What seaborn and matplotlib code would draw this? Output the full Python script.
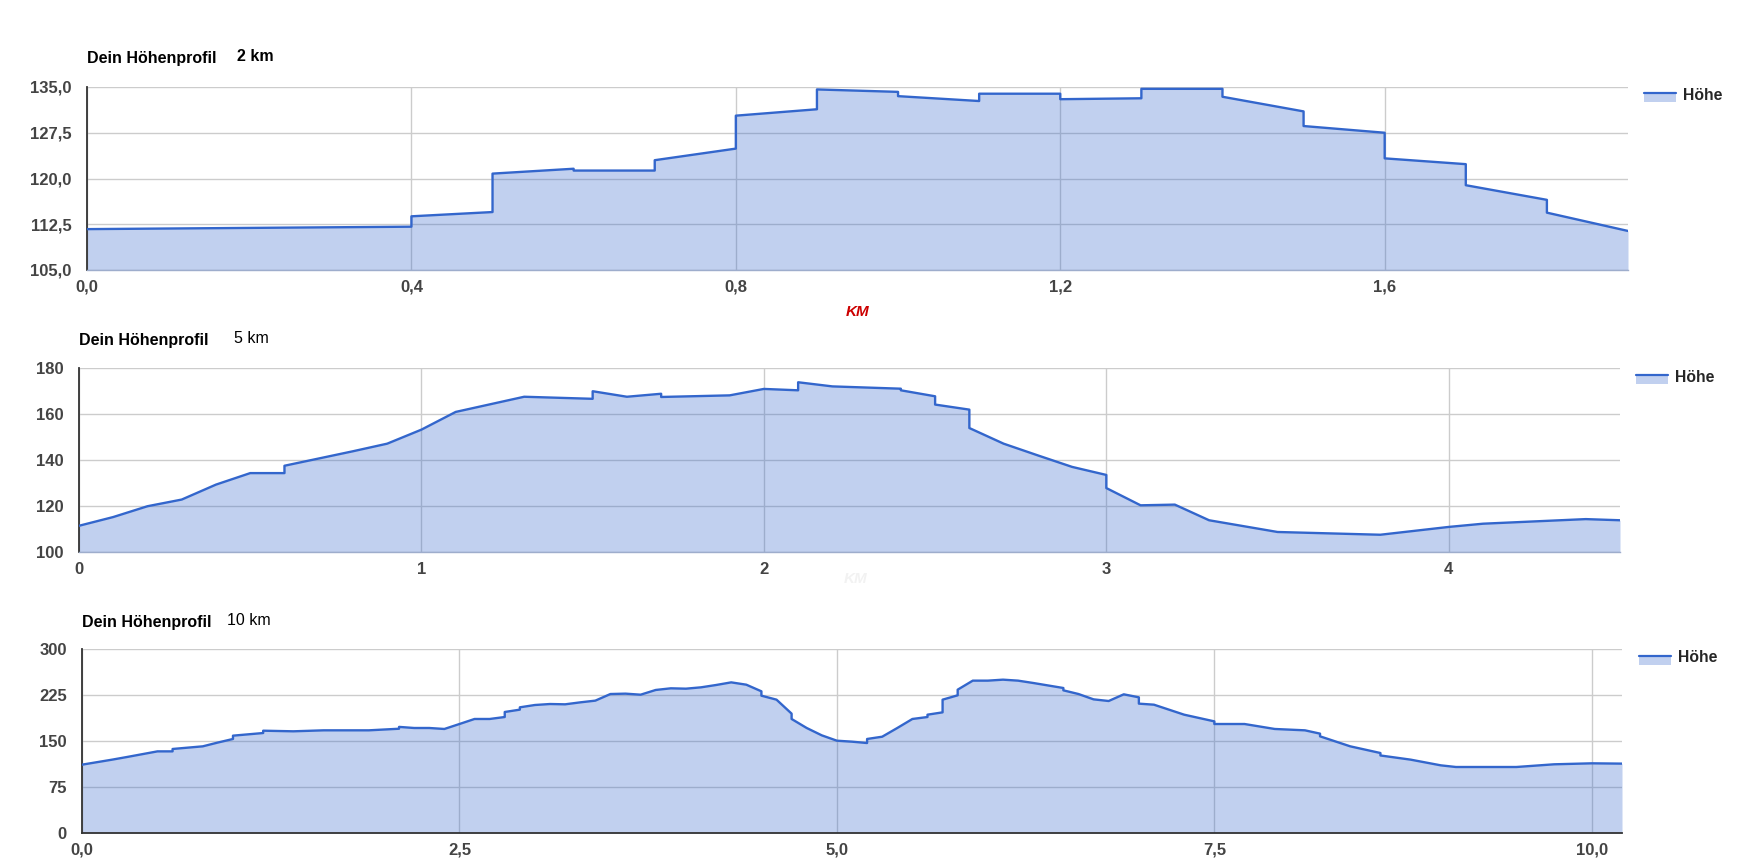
import matplotlib
matplotlib.use("Agg")
import matplotlib.pyplot as plt
from matplotlib.lines import Line2D
from matplotlib.patches import Rectangle
from matplotlib.ticker import FuncFormatter
import seaborn as sns

# ---------- DATA (km, Höhe in m) ----------
km_2 = [0.0, 0.4, 0.4, 0.5, 0.5, 0.6, 0.6, 0.7, 0.7, 0.8, 0.8, 0.9, 0.9, 1.0, 1.0,
        1.1, 1.1, 1.2, 1.2, 1.3, 1.3, 1.4, 1.4, 1.5, 1.5, 1.6, 1.6, 1.7, 1.7, 1.8, 1.8, 1.9]
hoehe_2 = [111.7, 112.1, 113.8, 114.5, 120.8, 121.6, 121.3, 121.3, 123.0, 124.9, 130.3,
           131.35, 134.6, 134.2, 133.5, 132.7, 133.9, 133.9, 133.0, 133.15, 134.7, 134.7,
           133.4, 131.0, 128.6, 127.5, 123.3, 122.35, 118.9, 116.5, 114.4, 111.4]

km_5 = [0.0, 0.1, 0.2, 0.3, 0.4, 0.5, 0.6, 0.6, 0.8, 0.9, 1.0, 1.1, 1.3, 1.5, 1.5, 1.6,
        1.7, 1.7, 1.9, 2.0, 2.1, 2.1, 2.2, 2.4, 2.4, 2.5, 2.5, 2.6, 2.6, 2.7, 2.8, 2.9,
        3.0, 3.0, 3.1, 3.2, 3.3, 3.5, 3.8, 4.0, 4.1, 4.4, 4.5]
hoehe_5 = [111.4, 115.2, 119.9, 122.8, 129.3, 134.3, 134.3, 137.5, 143.8, 147.1, 153.2,
           160.9, 167.5, 166.6, 169.9, 167.5, 168.8, 167.4, 168.1, 170.9, 170.3, 173.8,
           172.0, 171.0, 170.3, 167.7, 164.1, 161.9, 153.9, 147.1, 142.0, 137.0, 133.5,
           127.8, 120.3, 120.6, 113.8, 108.7, 107.5, 110.9, 112.3, 114.3, 113.8]

km_10 = [0.0, 0.2, 0.3, 0.5, 0.6, 0.6, 0.8, 0.9, 1.0, 1.0, 1.2, 1.2, 1.4, 1.6, 1.9, 2.1,
         2.1, 2.2, 2.3, 2.4, 2.5, 2.6, 2.7, 2.8, 2.8, 2.9, 2.9, 3.0, 3.1, 3.2, 3.3, 3.4,
         3.5, 3.6, 3.7, 3.8, 3.9, 4.0, 4.1, 4.2, 4.3, 4.4, 4.5, 4.5, 4.6, 4.7, 4.7, 4.8,
         4.9, 5.0, 5.1, 5.2, 5.2, 5.3, 5.4, 5.5, 5.6, 5.6, 5.7, 5.7, 5.8, 5.8, 5.9, 6.0,
         6.1, 6.2, 6.3, 6.5, 6.5, 6.6, 6.7, 6.8, 6.9, 7.0, 7.0, 7.1, 7.3, 7.5, 7.5, 7.7,
         7.9, 8.1, 8.2, 8.2, 8.4, 8.6, 8.6, 8.8, 9.0, 9.1, 9.5, 9.75, 10.0, 10.2]
hoehe_10 = [111.4, 119.6, 124.0, 133.1, 133.1, 137.0, 141.3, 147.5, 153.3, 158.7, 163.0,
            166.8, 165.8, 167.4, 167.4, 170.0, 173.0, 171.2, 171.2, 169.6, 177.7, 185.9,
            185.9, 189.1, 197.3, 201.1, 204.9, 208.7, 210.3, 209.8, 213.0, 215.8, 226.6,
            227.2, 225.5, 233.2, 235.9, 235.3, 237.5, 241.3, 245.6, 241.8, 231.0, 223.9,
            217.4, 194.6, 185.9, 171.2, 159.2, 150.5, 148.9, 146.7, 153.3, 157.0, 171.2,
            185.9, 189.1, 192.9, 196.7, 217.4, 224.5, 233.7, 248.4, 248.4, 250.0, 248.4,
            244.6, 236.4, 232.6, 226.6, 217.9, 215.2, 226.1, 221.2, 210.9, 209.2, 192.9,
            182.0, 177.7, 177.7, 169.6, 167.4, 162.0, 157.6, 141.3, 130.4, 126.4, 119.6,
            110.3, 107.6, 107.6, 112.0, 113.6, 113.1]

titles = ["2 km", "5 km", "10 km"]
y_ticks_2 = [105.0, 112.5, 120.0, 127.5, 135.0]
y_ticks_5 = [100, 120, 140, 160, 180]
y_ticks_10 = [0, 75, 150, 225, 300]
x_ticks_2 = [0.0, 0.4, 0.8, 1.2, 1.6]
x_ticks_5 = [0, 1, 2, 3, 4]
x_ticks_10 = [0.0, 2.5, 5.0, 7.5, 10.0]

# ---------- STYLE ----------
sns.set_theme(style="whitegrid")
plt.rcParams['font.family'] = ['Liberation Sans', 'DejaVu Sans']
plt.rcParams['font.weight'] = 'bold'

LINE = "#3366cc"
GRID = "#cccccc"
W, H = 1743, 865


def comma(fmt):
    return FuncFormatter(lambda v, _: format(v, fmt).replace('.', ','))


class AreaKey:
    pass


class AreaHandler:
    def legend_artist(self, legend, orig_handle, fontsize, handlebox):
        x0, y0 = handlebox.xdescent, handlebox.ydescent
        w, h = handlebox.width, handlebox.height
        t = handlebox.get_transform()
        patch = Rectangle((x0, y0 - 0.15 * h), w, 0.85 * h, facecolor=LINE, alpha=0.3,
                          edgecolor='none', transform=t)
        line = Line2D([x0, x0 + w], [y0 + 0.7 * h] * 2, color=LINE, lw=1.6, transform=t)
        handlebox.add_artist(patch)
        handlebox.add_artist(line)
        return patch


fig = plt.figure(figsize=(W / 100, H / 100), dpi=100)

# pixel boxes: left, top, right, bottom
panels = [
    dict(box=(87, 87, 1628, 270), km=km_2, h=hoehe_2, ylim=(105, 135), yt=y_ticks_2,
         xt=x_ticks_2, xmax=1.9, yf=comma('.1f'), xf=comma('.1f'), bottom='#9eadcc',
         title_y=63, sub_x=237, sub_w='bold', leg=(1644, 95)),
    dict(box=(79, 368, 1620, 552), km=km_5, h=hoehe_5, ylim=(100, 180), yt=y_ticks_5,
         xt=x_ticks_5, xmax=4.5, yf=comma('.0f'), xf=comma('.0f'), bottom='#9eadcc',
         title_y=345, sub_x=234, sub_w='normal', leg=(1636, 377)),
    dict(box=(82, 649, 1622, 833), km=km_10, h=hoehe_10, ylim=(0, 300), yt=y_ticks_10,
         xt=x_ticks_10, xmax=10.2, yf=comma('.0f'), xf=comma('.1f'), bottom='#333333',
         title_y=627, sub_x=227, sub_w='normal', leg=(1639, 658)),
]

for i, p in enumerate(panels):
    l, t, r, b = p['box']
    ax = fig.add_axes([l / W, 1 - b / H, (r - l) / W, (b - t) / H])
    sns.lineplot(x=p['km'], y=p['h'], ax=ax, estimator=None, sort=False,
                 color=LINE, lw=1.7, zorder=3)
    ax.fill_between(p['km'], p['h'], p['ylim'][0], color=LINE, alpha=0.3, lw=0, zorder=2)
    ax.set_xlim(0, p['xmax'])
    ax.set_ylim(*p['ylim'])
    ax.set_xticks(p['xt'])
    ax.set_yticks(p['yt'])
    ax.xaxis.set_major_formatter(p['xf'])
    ax.yaxis.set_major_formatter(p['yf'])
    ax.set_xlabel('')
    ax.set_ylabel('')
    ax.set_axisbelow(True)
    ax.grid(True, color=GRID, lw=1)
    ax.tick_params(axis='both', length=0, labelsize=12, labelcolor='#444444')
    ax.tick_params(axis='y', pad=11)
    ax.tick_params(axis='x', pad=7)
    for s in ['top', 'right']:
        ax.spines[s].set_visible(False)
    ax.spines['left'].set_color('#333333')
    ax.spines['left'].set_linewidth(1.3)
    ax.spines['bottom'].set_color(p['bottom'])
    ax.spines['bottom'].set_linewidth(1.3 if i == 2 else 1)

    fig.text(l / W, 1 - p['title_y'] / H, "Dein Höhenprofil", fontsize=11.5,
             color='black', va='baseline', ha='left')
    fig.text(p['sub_x'] / W, 1 - (p['title_y'] - 2) / H, titles[i], fontsize=11.5,
             color='black', va='baseline', ha='left', fontweight=p['sub_w'])

    lx, ly = p['leg']
    fig.legend([AreaKey()], ["Höhe"], handler_map={AreaKey: AreaHandler()},
               loc='center left', bbox_to_anchor=(lx / W, 1 - ly / H), frameon=False,
               borderpad=0, borderaxespad=0, handlelength=2.05, handleheight=0.6,
               handletextpad=0.45, prop={'size': 11.3, 'weight': 'bold'})

fig.text(858 / W, 1 - 312 / H, "KM", color='#cc0000', fontsize=11,
         fontstyle='italic', ha='center', va='center')
fig.text(856 / W, 1 - 579 / H, "KM", color='#f2f2f2', fontsize=11,
         fontstyle='italic', ha='center', va='center')

fig.savefig("out.png", dpi=100, facecolor='white')
